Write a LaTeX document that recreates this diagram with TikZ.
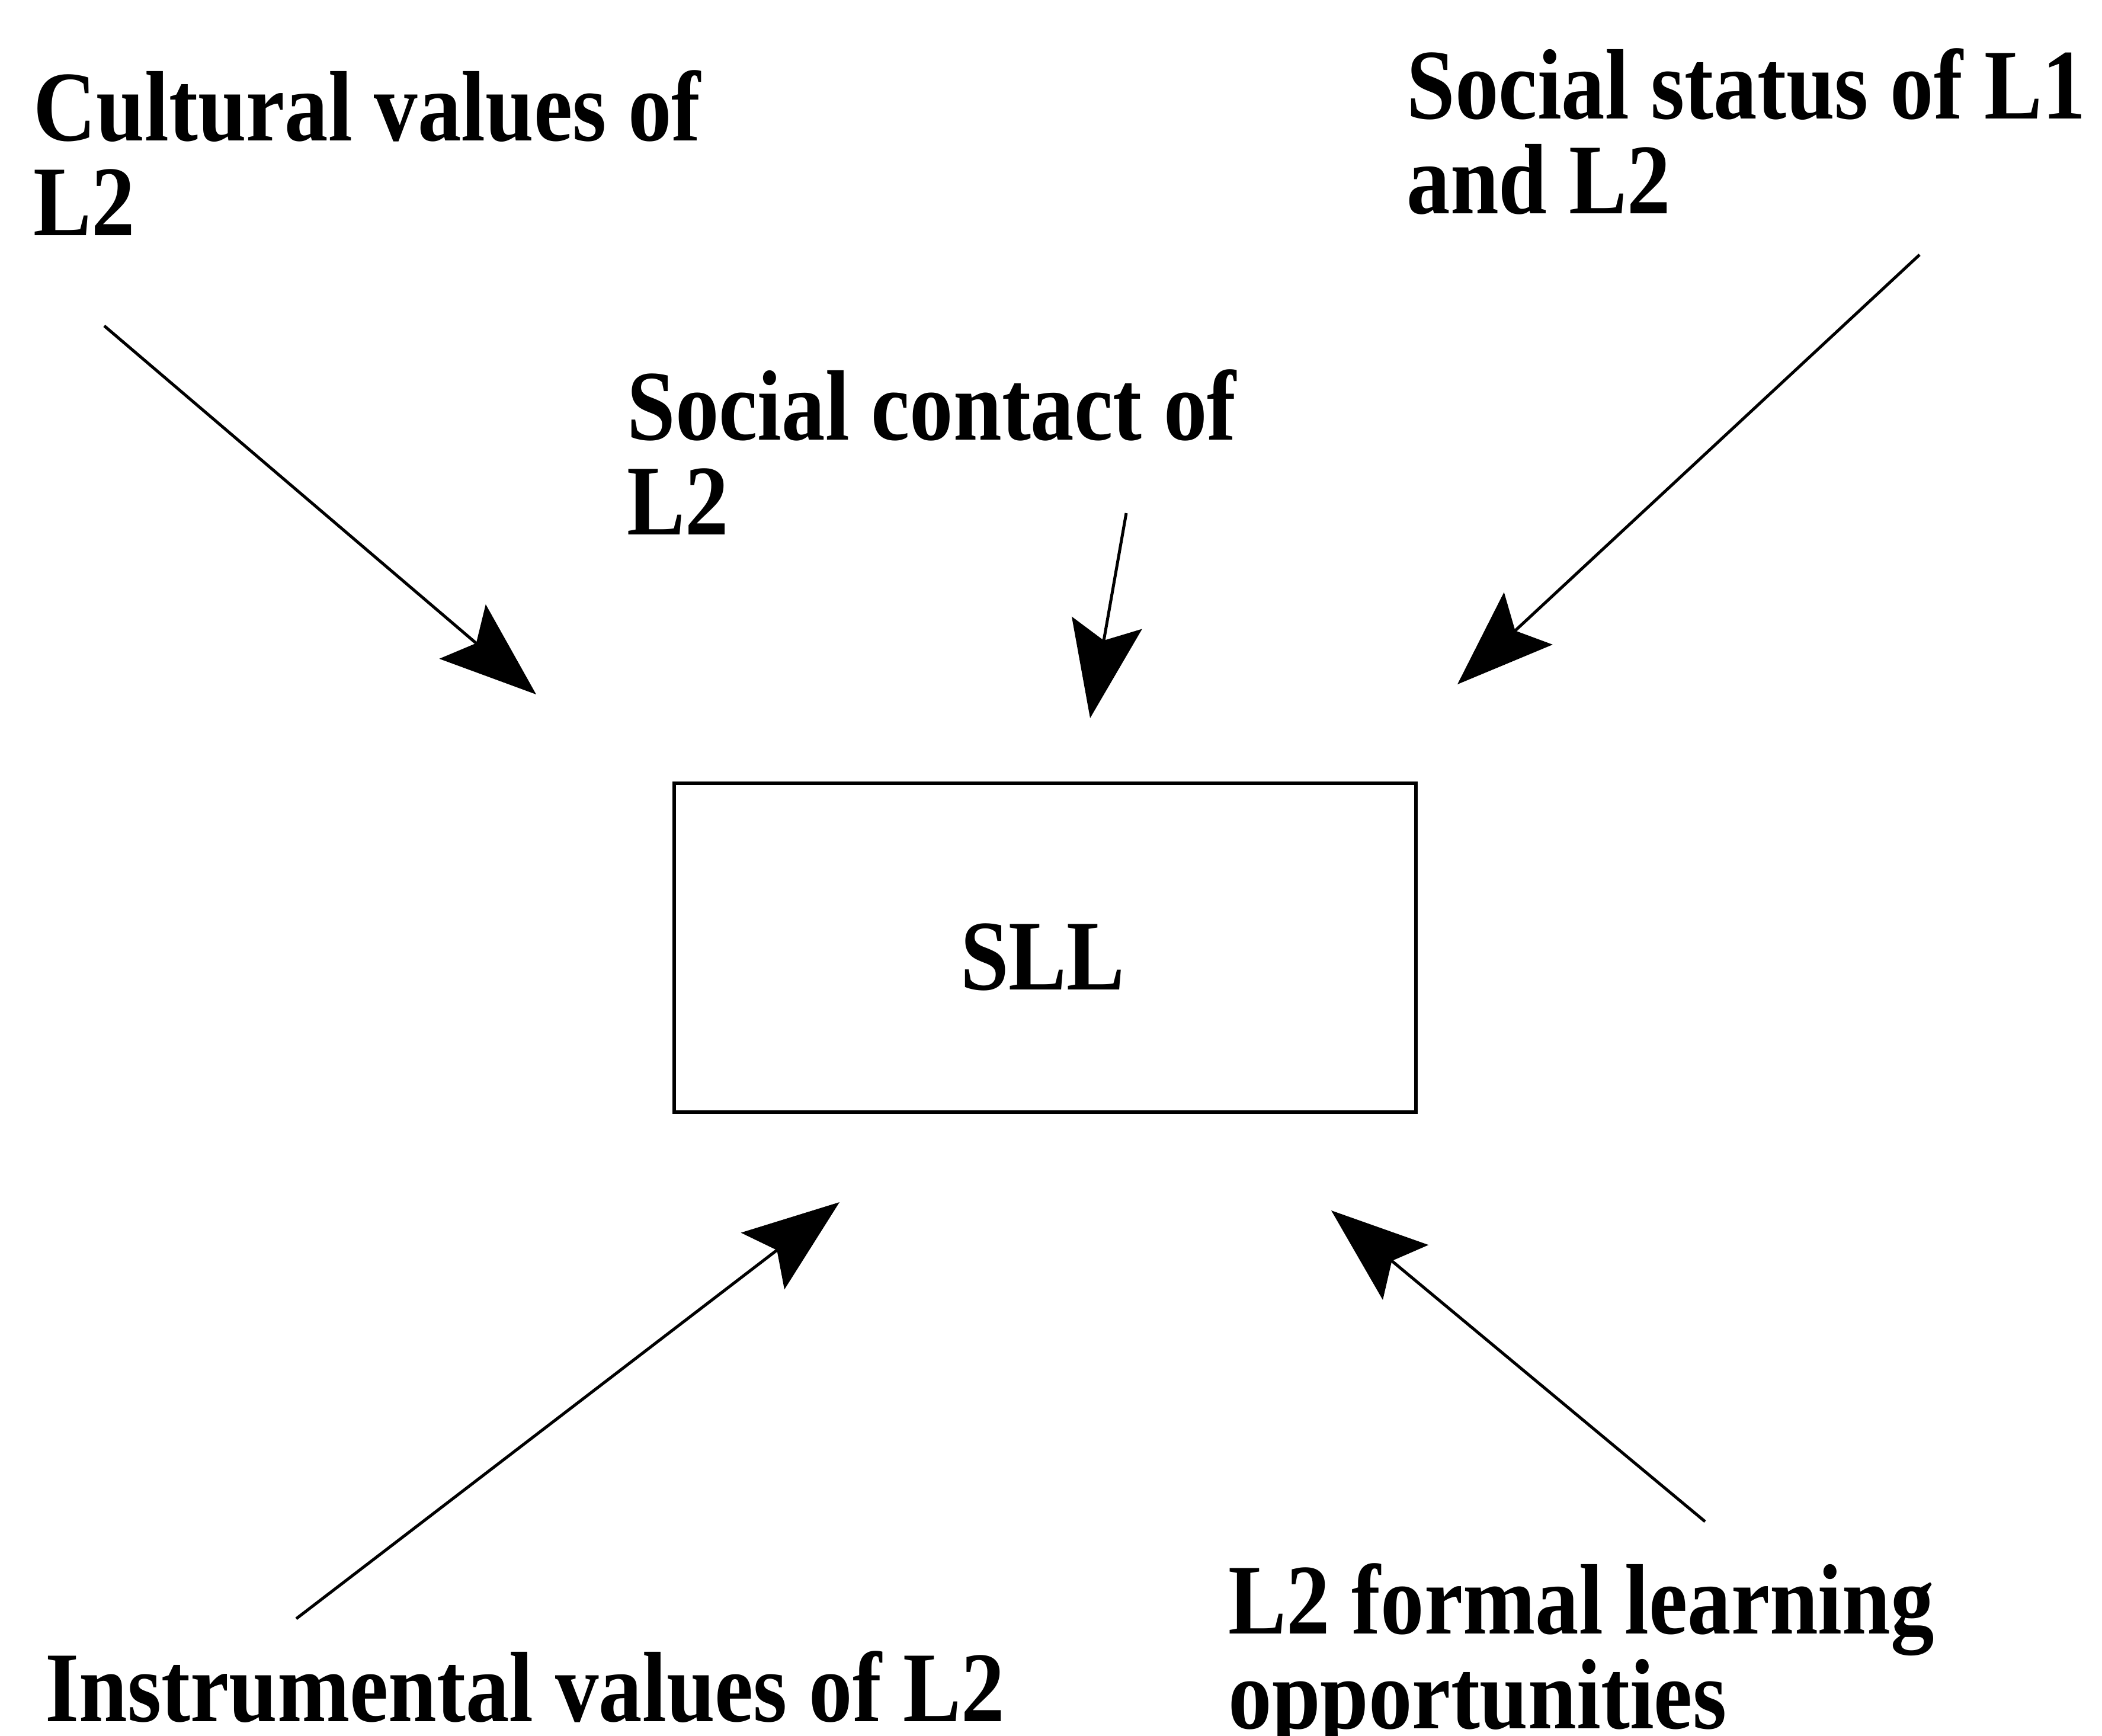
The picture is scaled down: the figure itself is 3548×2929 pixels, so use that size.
\documentclass[tikz,border=0pt]{standalone}
\usepackage{fontspec}
\newfontfamily\lblfont{Liberation Serif}[FakeStretch=0.87]
\usetikzlibrary{arrows.meta}
\tikzset{
  lbl/.style={anchor=base west, inner sep=0pt, align=left,
    font=\lblfont\bfseries\fontsize{48}{45.5}\selectfont},
  infl/.style={line width=0.05cm, -{Stealth[length=1.63cm, width=1.20cm, inset=0.30cm]}},
  sllbox/.style={draw, line width=0.06cm}
}
\begin{document}
\begin{tikzpicture}[x=0.01cm, y=-0.01cm]
\useasboundingbox (0,0) rectangle (3548,2929);
% labels (base anchor = baseline of the last line)
\node[lbl] (cult) at (56,397) {Cultural values of\\L2};
\node[lbl] (stat) at (2374,360) {Social status of L1\\and L2};
\node[lbl] (cont) at (1058,902) {Social contact of\\L2};
\node[lbl] (instr) at (76,2905) {Instrumental values of L2};
\node[lbl] (form) at (2073,2917) {L2 formal learning\\opportunities};
% central box
\draw[sllbox] (1138,1322) rectangle (2390,1877);
\node[lbl, anchor=base] (sll) at (1760,1670) {SLL};
% arrow end points
\coordinate (a1) at (176,550);   \coordinate (a2) at (905,1172);
\coordinate (b1) at (1901,866);  \coordinate (b2) at (1840,1212);
\coordinate (c1) at (3240,430);  \coordinate (c2) at (2460,1155);
\coordinate (d1) at (500,2732);  \coordinate (d2) at (1417,2029);
\coordinate (e1) at (2878,2568); \coordinate (e2) at (2247,2043);
\draw[infl] (a1) -- (a2);
\draw[infl] (b1) -- (b2);
\draw[infl] (c1) -- (c2);
\draw[infl] (d1) -- (d2);
\draw[infl] (e1) -- (e2);
\end{tikzpicture}
\end{document}
